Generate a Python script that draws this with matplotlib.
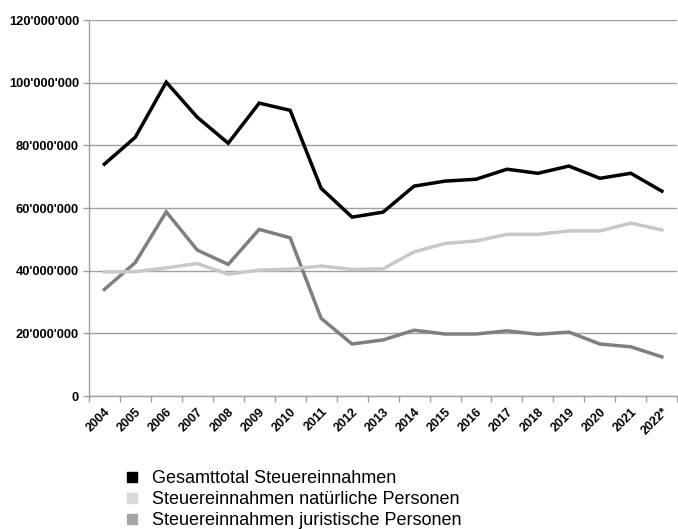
import matplotlib
matplotlib.use("Agg")
import matplotlib.pyplot as plt
from matplotlib.lines import Line2D
from matplotlib.ticker import FuncFormatter

plt.rcParams['font.family'] = ['Liberation Sans', 'DejaVu Sans']

years = ["2004", "2005", "2006", "2007", "2008", "2009", "2010", "2011", "2012",
         "2013", "2014", "2015", "2016", "2017", "2018", "2019", "2020", "2021", "2022*"]

total = [74.0, 82.6, 100.2, 89.0, 80.7, 93.5, 91.2, 66.3, 57.1, 58.7,
         67.0, 68.6, 69.2, 72.4, 71.1, 73.4, 69.5, 71.1, 65.4]
natuerlich = [39.6, 39.7, 40.9, 42.3, 38.9, 40.2, 40.5, 41.5, 40.4, 40.6,
              46.0, 48.7, 49.5, 51.6, 51.6, 52.7, 52.7, 55.2, 53.0]
juristisch = [34.0, 42.6, 58.8, 46.6, 42.0, 53.2, 50.5, 24.8, 16.6, 17.9,
              21.0, 19.8, 19.8, 20.8, 19.7, 20.4, 16.6, 15.7, 12.5]

series_names = ["Gesamttotal Steuereinnahmen",
                "Steuereinnahmen natürliche Personen",
                "Steuereinnahmen juristische Personen"]
line_colors = ["#000000", "#c8c8c8", "#7f7f7f"]
legend_colors = ["#000000", "#d9d9d9", "#a6a6a6"]

fig = plt.figure(figsize=(6.78, 5.29), dpi=100)
ax = fig.add_axes([0.131, 0.2514, 0.868, 0.7106])

x = list(range(len(years)))
scale = 1e6
for vals, col in zip([total, natuerlich, juristisch][::-1], line_colors[::-1]):
    ax.plot(x, [v * scale for v in vals], color=col, lw=2.5, solid_joinstyle='miter', zorder=3)

ax.set_xlim(-0.5, len(years) - 0.5)
ax.set_ylim(0, 120e6)
ax.set_yticks([i * 20e6 for i in range(7)])
ax.yaxis.set_major_formatter(FuncFormatter(lambda v, p: "{:,.0f}".format(v).replace(",", "'")))
ax.grid(axis='y', color='#a0a0a0', lw=1.0, zorder=0)
ax.set_axisbelow(True)

ax.set_xticks(x)
ax.set_xticklabels(years, rotation=45, ha='right', rotation_mode='anchor',
                   fontsize=9, fontweight='bold')
ax.set_xticks([i - 0.5 for i in range(len(years) + 1)], minor=True)
ax.tick_params(axis='x', which='major', length=0, pad=7)
ax.tick_params(axis='x', which='minor', length=4, color='#a0a0a0', width=1)
ax.tick_params(axis='y', length=4, color='#a0a0a0', width=1, pad=3)
for lbl in ax.get_yticklabels():
    lbl.set_fontsize(9.3)
    lbl.set_fontweight('bold')

for s in ['top', 'right']:
    ax.spines[s].set_visible(False)
for s in ['left', 'bottom']:
    ax.spines[s].set_color('#a0a0a0')
    ax.spines[s].set_linewidth(1.0)

handles = [Line2D([], [], marker='s', linestyle='none', markersize=7.5,
                  markerfacecolor=c, markeredgecolor=c) for c in legend_colors]
fig.legend(handles, series_names, loc='upper left', bbox_to_anchor=(0.170, 0.128),
           frameon=False, fontsize=13, handletextpad=0.75, labelspacing=0.22,
           borderpad=0, handlelength=0.8)

fig.savefig("out.png", dpi=100)
